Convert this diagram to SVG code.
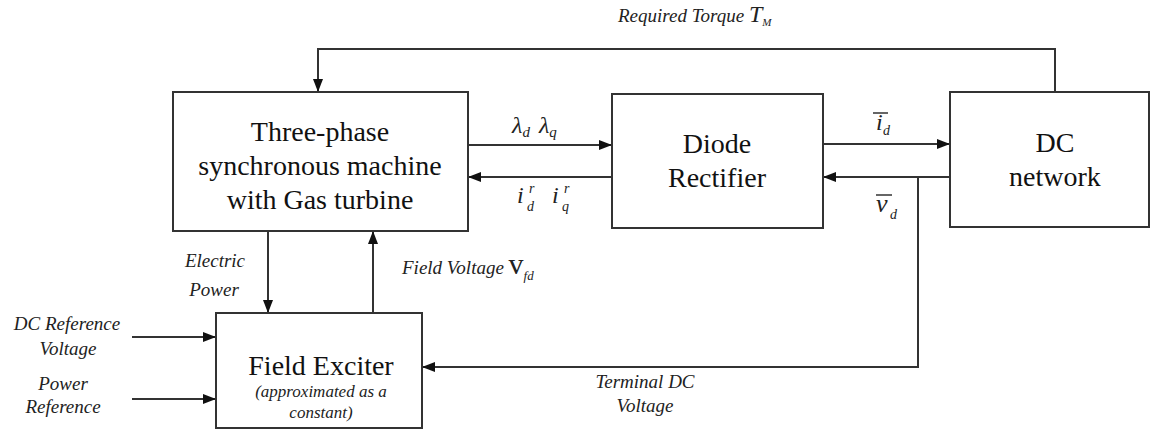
<svg xmlns="http://www.w3.org/2000/svg" width="1156" height="435" viewBox="0 0 1156 435">
<defs>
<marker id="ah" viewBox="0 0 13 10" refX="13" refY="5" markerWidth="13" markerHeight="10" markerUnits="userSpaceOnUse" orient="auto">
<path d="M0,0 L13,5 L0,10 z" fill="#111"/>
</marker>
</defs>
<style>
.box{fill:#fff;stroke:#333;stroke-width:2}
.con{fill:none;stroke:#333;stroke-width:2}
.arr{marker-end:url(#ah)}
text{font-family:"Liberation Serif","Times New Roman",Tinos,"DejaVu Serif",serif}
.big{font-size:28px;fill:#111;text-anchor:middle}
.lab{font-style:italic;font-size:19px;fill:#222;text-anchor:middle}
.small{font-style:italic;font-size:17px;fill:#222;text-anchor:middle}
.m{font-style:italic;fill:#222}
</style>
<rect width="1156" height="435" fill="#fff"/>
<g id="connectors">
<polyline class="con arr" points="1055,92 1055,49 318,49 318,92"/>
<line class="con arr" x1="468" y1="145" x2="612" y2="145"/>
<line class="con arr" x1="612" y1="177" x2="468" y2="177"/>
<line class="con arr" x1="823" y1="144" x2="950" y2="144"/>
<line class="con arr" x1="950" y1="177" x2="823" y2="177"/>
<polyline class="con arr" points="918,177 918,367 422,367"/>
<line class="con arr" x1="268" y1="231" x2="268" y2="313"/>
<line class="con arr" x1="373" y1="315" x2="373" y2="231"/>
<line class="con arr" x1="132" y1="337" x2="216" y2="337"/>
<line class="con arr" x1="132" y1="399" x2="216" y2="399"/>
</g>
<g id="machine">
<rect class="box" x="173" y="92" width="295" height="139"/>
<text class="big" x="320" y="141">Three-phase</text>
<text class="big" x="320" y="175">synchronous machine</text>
<text class="big" x="320" y="209">with Gas turbine</text>
</g>
<g id="rectifier">
<rect class="box" x="612" y="94" width="211" height="134"/>
<text class="big" x="717" y="153">Diode</text>
<text class="big" x="717" y="187">Rectifier</text>
</g>
<g id="dcnetwork">
<rect class="box" x="950" y="92" width="199" height="135"/>
<text class="big" x="1055" y="152">DC</text>
<text class="big" x="1055" y="186">network</text>
</g>
<g id="exciter">
<rect class="box" x="216" y="313" width="206" height="115"/>
<text class="big" x="321" y="375">Field Exciter</text>
<text class="small" x="321" y="397">(approximated as a</text>
<text class="small" x="321" y="418">constant)</text>
</g>
<g id="labels">
<text class="m" x="618" y="22" font-size="19">Required Torque <tspan font-size="24">T</tspan><tspan font-size="11" dy="4">M</tspan></text>
<text class="m" x="512" y="133" font-size="24">λ<tspan font-size="15" dy="4">d</tspan><tspan dx="9" dy="-4">λ</tspan><tspan font-size="15" dy="4">q</tspan></text>
<text class="m" x="517" y="203" font-size="24">i</text>
<text class="m" x="529" y="193" font-size="14">r</text>
<text class="m" x="527" y="211" font-size="14">d</text>
<text class="m" x="552" y="203" font-size="24">i</text>
<text class="m" x="564" y="193" font-size="14">r</text>
<text class="m" x="562" y="211" font-size="14">q</text>
<text class="m" x="876" y="130" font-size="24">i</text>
<text class="m" x="883" y="135" font-size="14">d</text>
<line x1="873" y1="113" x2="888" y2="113" stroke="#333" stroke-width="1.5"/>
<text class="m" x="876" y="212" font-size="26">v</text>
<text class="m" x="890" y="219" font-size="14">d</text>
<line x1="876" y1="195" x2="892" y2="195" stroke="#333" stroke-width="1.5"/>
<text class="lab" x="215" y="267">Electric</text>
<text class="lab" x="214" y="296">Power</text>
<text class="m" x="402" y="274" font-size="19">Field Voltage <tspan font-style="normal" font-size="30">v</tspan><tspan font-size="13" dy="6">fd</tspan></text>
<text class="lab" x="67" y="330">DC Reference</text>
<text class="lab" x="68" y="355">Voltage</text>
<text class="lab" x="63" y="390">Power</text>
<text class="lab" x="63" y="413">Reference</text>
<text class="lab" x="645" y="388">Terminal DC</text>
<text class="lab" x="645" y="412">Voltage</text>
</g>
</svg>
